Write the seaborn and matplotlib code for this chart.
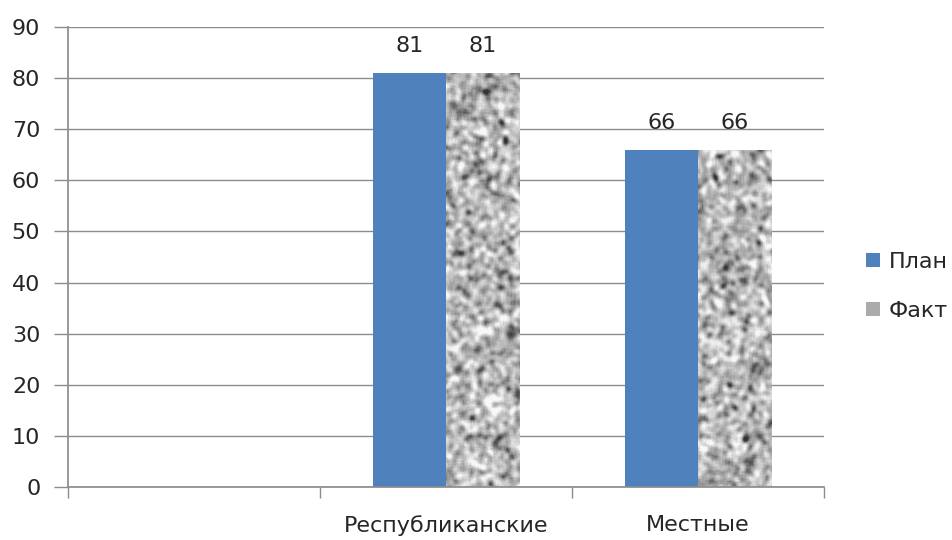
import numpy as np
import pandas as pd
import matplotlib
matplotlib.use("Agg")
import matplotlib.pyplot as plt
import seaborn as sns
from matplotlib.patches import Patch

categories = ["", "Республиканские", "Местные"]
plan_values = [np.nan, 81, 66]
fact_values = [np.nan, 81, 66]
series_names = ["План", "Факт"]
y_ticks = [0, 10, 20, 30, 40, 50, 60, 70, 80, 90]

sns.set_theme(style="white")
plt.rcParams['font.family'] = ['DejaVu Sans']

df = pd.DataFrame({
    "cat": categories * 2,
    "val": plan_values + fact_values,
    "series": [series_names[0]] * 3 + [series_names[1]] * 3,
})

fig = plt.figure(figsize=(9.53, 5.40), dpi=100)
ax = fig.add_axes([0.0714, 0.0981, 0.7932, 0.8519])

blue = "#4F81BD"
gray = "#ABABAB"
text_color = "#262626"
fs = 16
sns.barplot(data=df, x="cat", y="val", hue="series", order=categories,
            hue_order=series_names, palette=[blue, gray], width=0.58,
            saturation=1, ax=ax, legend=False, linewidth=0)

# granite texture (pixel scale) for the "Факт" bars
def make_texture(h, w, seed):
    rng = np.random.default_rng(seed)
    noise = rng.random((h + 20, w + 20))
    sm = noise
    for _ in range(2):
        p = np.pad(sm, 2, mode="edge")
        sm = sum(p[i:i + sm.shape[0], j:j + sm.shape[1]] for i in range(5) for j in range(5)) / 25.0
    sm = sm[10:10 + h, 10:10 + w]
    sm = (sm - sm.mean()) / sm.std()
    fine = rng.random((h, w)) - 0.5
    t = 0.72 + 0.12 * sm - 0.06 * np.clip(-sm - 1.0, 0, None) + 0.05 * fine
    return np.clip(t, 0.2, 0.97)

fact_container = ax.containers[1]
for i, bar in enumerate(fact_container):
    h = bar.get_height()
    if not np.isfinite(h) or h == 0:
        continue
    x0, w = bar.get_x(), bar.get_width()
    tex = make_texture(460, 74, seed=11 + i)
    im = ax.imshow(tex, cmap="gray", vmin=0, vmax=1, aspect="auto",
                   extent=[x0, x0 + w, 0, 90], zorder=bar.get_zorder() + 0.1,
                   interpolation="bilinear")
    im.set_clip_path(bar)

for cont in ax.containers:
    labels = ["" if not np.isfinite(b.get_height()) else f"{int(b.get_height())}" for b in cont]
    ax.bar_label(cont, labels=labels, padding=12, fontsize=fs, color=text_color)

ax.set_xlim(-0.5, 2.5)
ax.set_ylim(0, 90)
ax.set_yticks(y_ticks)
ax.set_yticklabels([str(t) for t in y_ticks], fontsize=fs, color=text_color)
ax.yaxis.grid(True, color="#8C8C8C", linewidth=1)
ax.set_axisbelow(True)

ax.set_xticks([-0.5, 0.5, 1.5, 2.5])
ax.set_xticklabels([])
ax.set_xticks([0, 1, 2], minor=True)
ax.set_xticklabels(categories, minor=True, fontsize=fs, color=text_color)
ax.tick_params(axis="x", which="major", length=8, width=1, color="#8C8C8C", direction="out", bottom=True)
ax.tick_params(axis="x", which="minor", length=0, pad=20)
ax.tick_params(axis="y", length=10, width=1, color="#8C8C8C", direction="out", left=True, pad=10)

for s in ["top", "right"]:
    ax.spines[s].set_visible(False)
ax.spines["left"].set_color("#8C8C8C")
ax.spines["bottom"].set_color("#8C8C8C")
ax.set_xlabel("")
ax.set_ylabel("")

handles = [Patch(facecolor=blue, edgecolor="none"), Patch(facecolor=gray, edgecolor="none")]
fig.legend(handles, series_names, loc="center left", bbox_to_anchor=(0.909, 0.47),
           frameon=False, fontsize=fs, handlelength=0.6, handleheight=0.6,
           labelspacing=1.3, handletextpad=0.4, labelcolor=text_color,
           borderpad=0, borderaxespad=0)

fig.savefig("out.png", dpi=100)
